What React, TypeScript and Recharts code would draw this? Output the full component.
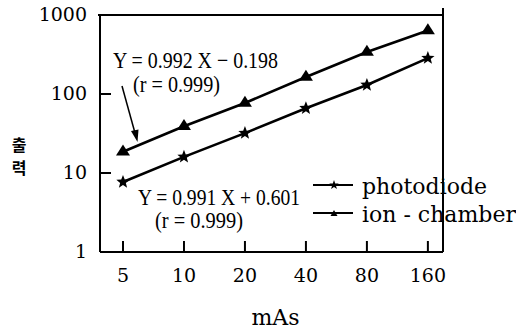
import { Customized, Line, LineChart, XAxis, YAxis } from 'recharts';

const mAs = [5, 10, 20, 40, 80, 160];
const photodiode = [7.7, 16, 32, 66, 130, 285];
const ionChamber = [18.6, 39, 77, 164, 340, 635];
const xTicks = [5, 10, 20, 40, 80, 160];
const yTicks = [1, 10, 100, 1000];
const xDomain = [3.85, 190];
const yDomain = [1, 1000];

const data = mAs.map((m, i) => ({ mAs: m, photodiode: photodiode[i], ion: ionChamber[i] }));

const SERIF = '"DejaVu Serif", serif';
const NARROW = '"Liberation Serif", serif';

function starPoints(cx: number, cy: number, R: number, r: number) {
  const pts: string[] = [];
  for (let i = 0; i < 10; i++) {
    const rad = i % 2 === 0 ? R : r;
    const a = -Math.PI / 2 + (i * Math.PI) / 5;
    pts.push(`${cx + rad * Math.cos(a)},${cy + rad * Math.sin(a)}`);
  }
  return pts.join(' ');
}

function triPoints(cx: number, cy: number, w: number, h: number) {
  return `${cx},${cy - (h * 2) / 3} ${cx - w / 2},${cy + h / 3} ${cx + w / 2},${cy + h / 3}`;
}

const StarDot = (props: any) => {
  const { cx, cy, index } = props;
  if (cx == null || cy == null) return <g key={`s${index}`} />;
  return <polygon key={`s${index}`} points={starPoints(cx, cy, 7, 3)} fill="#000" />;
};

const TriDot = (props: any) => {
  const { cx, cy, index } = props;
  if (cx == null || cy == null) return <g key={`t${index}`} />;
  return <polygon key={`t${index}`} points={triPoints(cx, cy, 14, 11)} fill="#000" />;
};

const YTick = ({ x, y, payload }: any) => (
  <g>
    <line x1={x} x2={x + 11} y1={y} y2={y} stroke="#000" strokeWidth={2} />
    <text x={x - 13} y={y} dy="0.33em" textAnchor="end" fontFamily={SERIF} fontSize={19} fill="#000">
      {payload.value}
    </text>
  </g>
);

const XTick = ({ x, y, payload }: any) => (
  <g>
    <line x1={x} x2={x} y1={y} y2={y - 11} stroke="#000" strokeWidth={2} />
    <text x={x} y={y + 30} textAnchor="middle" fontFamily={SERIF} fontSize={19} fill="#000">
      {payload.value}
    </text>
  </g>
);

const legendRows = [
  { label: 'photodiode', shape: 'star' },
  { label: 'ion - chamber', shape: 'tri' },
];

function LegendBox() {
  return (
    <div
      style={{
        position: 'absolute',
        left: 312,
        top: 173,
        fontFamily: SERIF,
        fontSize: 22,
        lineHeight: '28px',
        color: '#000',
        whiteSpace: 'nowrap',
      }}
    >
      {legendRows.map((r) => (
        <div key={r.label} style={{ display: 'flex', alignItems: 'center', height: 28 }}>
          <svg width={50} height={20}>
            <line x1={1} x2={41} y1={8} y2={8} stroke="#000" strokeWidth={2} />
            {r.shape === 'star' ? (
              <polygon points={starPoints(22, 8, 5, 2)} fill="#000" />
            ) : (
              <polygon points={triPoints(22, 9, 7, 6)} fill="#000" />
            )}
          </svg>
          <span>{r.label}</span>
        </div>
      ))}
    </div>
  );
}

function Annotations() {
  return (
    <g>
      {/* top and right edges of the plot box */}
      <path d="M98,15 L443,15 M443,8 L443,252" stroke="#000" strokeWidth={2} fill="none" />
      <text x={113} y={68} fill="#000" fontFamily={NARROW} fontSize={23} textLength={165} lengthAdjust="spacingAndGlyphs">
        Y = 0.992 X − 0.198
      </text>
      <text x={133} y={92} fill="#000" fontFamily={NARROW} fontSize={23} textLength={87} lengthAdjust="spacingAndGlyphs">
        (r = 0.999)
      </text>
      <line x1={122} y1={86} x2={135} y2={133} stroke="#000" strokeWidth={1.5} />
      <polygon points="137.5,142 131,131 138.5,129.5" fill="#000" />
      <text x={138} y={205} fill="#000" fontFamily={NARROW} fontSize={23} textLength={162} lengthAdjust="spacingAndGlyphs">
        Y = 0.991 X + 0.601
      </text>
      <text x={155} y={228} fill="#000" fontFamily={NARROW} fontSize={23} textLength={88} lengthAdjust="spacingAndGlyphs">
        (r = 0.999)
      </text>
      <text x={19} y={151} fill="#000" textAnchor="middle" fontFamily='"Noto Sans CJK KR", sans-serif' fontWeight={700} fontSize={16}>
        출
      </text>
      <text x={19} y={174} fill="#000" textAnchor="middle" fontFamily='"Noto Sans CJK KR", sans-serif' fontWeight={700} fontSize={16}>
        력
      </text>
    </g>
  );
}

export default function App() {
  return (
    <div style={{ position: 'absolute', left: 0, top: 0, width: 516, height: 331, background: '#fff' }}>
      <LineChart width={516} height={331} data={data} margin={{ top: 15, right: 73, left: 40, bottom: 0 }}>
        <XAxis
          dataKey="mAs"
          type="number"
          scale="log"
          domain={xDomain}
          ticks={xTicks}
          allowDataOverflow
          height={79}
          tickSize={0}
          tickMargin={0}
          tickLine={false}
          tick={<XTick />}
          axisLine={{ stroke: '#000', strokeWidth: 2 }}
          label={{ value: 'mAs', position: 'insideBottom', offset: 6, dx: 4, fontFamily: SERIF, fontSize: 22, fill: '#000' }}
        />
        <YAxis
          type="number"
          scale="log"
          domain={yDomain}
          ticks={yTicks}
          allowDataOverflow
          width={60}
          tickSize={0}
          tickMargin={0}
          tickLine={false}
          tick={<YTick />}
          axisLine={{ stroke: '#000', strokeWidth: 2 }}
        />
        <Line
          dataKey="ion"
          name="ion - chamber"
          type="linear"
          stroke="#000"
          strokeWidth={2.6}
          dot={TriDot}
          activeDot={false}
          isAnimationActive={false}
        />
        <Line
          dataKey="photodiode"
          name="photodiode"
          type="linear"
          stroke="#000"
          strokeWidth={2.6}
          dot={StarDot}
          activeDot={false}
          isAnimationActive={false}
        />
        <Customized component={<Annotations />} />
      </LineChart>
      <LegendBox />
    </div>
  );
}
